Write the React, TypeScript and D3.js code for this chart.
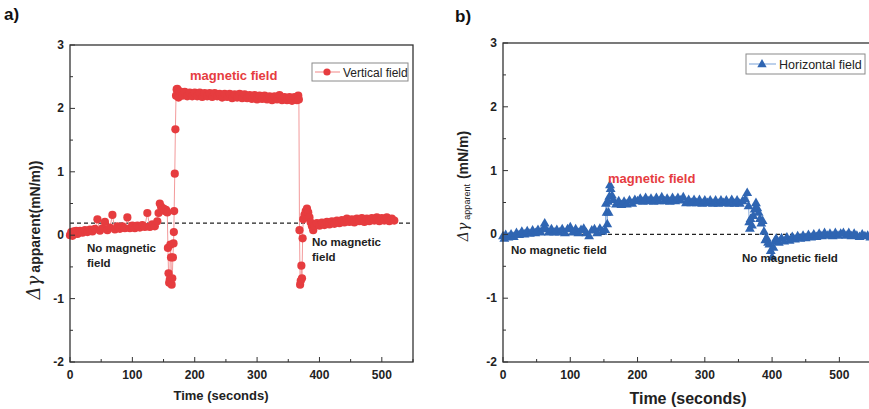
import React from "react";
import * as d3 from "d3";

// ---------- DATA ----------
const xTicks = [0, 100, 200, 300, 400, 500];
const yTicks = [-2, -1, 0, 1, 2, 3];

// Vertical field (panel a): [time s, Δγ mN/m]
const vertBefore: [number, number][] = [
  [0, 0.0], [2, 0.05], [4, -0.01], [6, 0.06], [8, 0.03], [10, 0.07], [12, 0.02], [16, 0.07], [20, 0.04],
  [24, 0.08], [28, 0.05], [32, 0.09], [36, 0.06], [40, 0.1], [44, 0.25], [48, 0.07], [52, 0.11],
  [56, 0.21], [60, 0.08], [64, 0.12], [68, 0.32], [72, 0.09], [76, 0.14], [80, 0.1], [84, 0.14],
  [88, 0.11], [92, 0.28], [96, 0.11], [100, 0.15], [104, 0.11], [108, 0.15], [112, 0.12], [116, 0.16],
  [120, 0.13], [124, 0.35], [128, 0.13], [132, 0.17], [136, 0.14], [140, 0.22],
];
const vertSwitchOn: [number, number][] = [
  [142, 0.35], [144, 0.5], [146, 0.45], [148, 0.4], [150, 0.42], [152, 0.38], [154, 0.4], [156, 0.36],
  [157, -0.2], [158, -0.6], [159, -0.75], [160, -0.7], [161, -0.15], [162, -0.35], [163, -0.78],
  [164, -0.68], [165, -0.35], [166, -0.13], [166.5, 0.05], [167, 0.38], [168, 0.97], [169, 1.67],
  [170, 2.2], [171, 2.3],
];
const vertOn: [number, number][] = [
  [172, 2.31], [174, 2.17], [176, 2.27], [180, 2.2], [184, 2.26], [188, 2.19], [192, 2.25], [196, 2.19],
  [200, 2.25], [204, 2.19], [208, 2.25], [212, 2.18], [216, 2.24], [220, 2.19], [224, 2.24], [228, 2.18],
  [232, 2.24], [236, 2.19], [240, 2.23], [244, 2.17], [248, 2.23], [252, 2.18], [256, 2.23], [260, 2.16],
  [264, 2.22], [268, 2.17], [272, 2.23], [276, 2.16], [280, 2.22], [284, 2.16], [288, 2.21], [292, 2.15],
  [296, 2.21], [300, 2.14], [304, 2.2], [308, 2.15], [312, 2.2], [316, 2.14], [320, 2.19], [324, 2.13],
  [328, 2.19], [332, 2.14], [336, 2.21], [340, 2.13], [344, 2.18], [348, 2.13], [352, 2.18], [356, 2.12],
  [360, 2.18], [364, 2.13], [366, 2.2], [367, 2.14],
];
const vertSwitchOff: [number, number][] = [
  [368, 0.08], [369, -0.78], [370, -0.72], [371, -0.48], [372, -0.68], [373, -0.05], [374, 0.25],
  [376, 0.32], [378, 0.38], [380, 0.42], [382, 0.36], [384, 0.28], [386, 0.2], [388, 0.14], [390, 0.08],
];
const vertAfter: [number, number][] = [
  [392, 0.15], [396, 0.19], [400, 0.15], [404, 0.2], [408, 0.16], [412, 0.21], [416, 0.17], [420, 0.22],
  [424, 0.18], [428, 0.23], [432, 0.19], [436, 0.24], [440, 0.2], [444, 0.26], [448, 0.21], [452, 0.25],
  [456, 0.2], [460, 0.26], [464, 0.22], [468, 0.27], [472, 0.21], [476, 0.26], [480, 0.22], [484, 0.27],
  [488, 0.23], [492, 0.28], [496, 0.22], [500, 0.27], [504, 0.23], [508, 0.28], [512, 0.22], [516, 0.26],
  [520, 0.23],
];

// Horizontal field (panel b)
const horBefore: [number, number][] = [
  [0, -0.02], [2, -0.06], [4, 0.0], [8, -0.04], [12, 0.01], [16, -0.03], [20, 0.03], [24, 0.0],
  [28, 0.05], [32, 0.01], [36, 0.06], [40, 0.02], [44, 0.07], [48, 0.03], [52, 0.08], [56, 0.04],
  [60, 0.1], [62, 0.18], [64, 0.09], [68, 0.04], [72, 0.09], [76, 0.04], [80, 0.08], [84, 0.04],
  [88, 0.09], [92, 0.03], [96, 0.09], [100, 0.12], [104, 0.04], [108, 0.09], [112, 0.03], [116, 0.08],
  [120, 0.1], [124, 0.03], [128, -0.02], [132, 0.07], [136, 0.09], [140, 0.03], [144, 0.1], [148, 0.05],
  [152, 0.08],
];
const horSwitchOn: [number, number][] = [
  [153, 0.49], [154, 0.35], [155, 0.17], [156, 0.52], [157, 0.35], [158, 0.6], [159, 0.78], [160, 0.72],
  [162, 0.62], [164, 0.55], [168, 0.48], [172, 0.53], [176, 0.47], [180, 0.52],
];
const horOn: [number, number][] = [
  [184, 0.48], [188, 0.54], [192, 0.49], [196, 0.55], [200, 0.53], [204, 0.57], [208, 0.52], [212, 0.58],
  [216, 0.53], [220, 0.57], [224, 0.52], [228, 0.58], [232, 0.53], [236, 0.59], [240, 0.53], [244, 0.57],
  [248, 0.52], [252, 0.58], [256, 0.53], [260, 0.58], [264, 0.54], [268, 0.59], [272, 0.5], [276, 0.55],
  [280, 0.5], [284, 0.55], [288, 0.5], [292, 0.55], [296, 0.49], [300, 0.54], [304, 0.5], [308, 0.54],
  [312, 0.49], [316, 0.54], [320, 0.49], [324, 0.54], [328, 0.5], [332, 0.54], [336, 0.49], [340, 0.55],
  [344, 0.49], [348, 0.54], [352, 0.49], [356, 0.53], [360, 0.56], [363, 0.66],
];
const horSwitchOff: [number, number][] = [
  [365, 0.45], [366, 0.2], [367, 0.1], [368, 0.25], [370, 0.15], [372, 0.3], [374, 0.4], [376, 0.5],
  [378, 0.42], [380, 0.35], [382, 0.25], [384, 0.18], [386, 0.22], [388, 0.05], [390, -0.08],
  [392, -0.05], [394, -0.12], [396, -0.15], [398, -0.25], [400, -0.35], [402, -0.2], [404, -0.1],
];
const horAfter: [number, number][] = [
  [406, -0.06], [410, -0.12], [414, -0.05], [418, -0.1], [422, -0.04], [426, -0.09], [430, -0.03],
  [434, -0.07], [438, -0.02], [442, -0.06], [446, -0.01], [450, -0.05], [454, 0.0], [458, -0.04],
  [462, 0.01], [466, -0.03], [470, 0.02], [474, -0.02], [478, 0.03], [482, -0.01], [486, 0.02], [490, -0.02],
  [494, 0.03], [498, -0.01], [502, 0.02], [506, 0.03], [510, -0.01], [514, 0.03], [518, -0.02], [522, 0.02],
  [526, -0.01], [530, -0.03], [534, 0.01], [538, -0.02], [542, -0.01], [546, -0.04],
];

const vertical = [...vertBefore, ...vertSwitchOn, ...vertOn, ...vertSwitchOff, ...vertAfter];
const horizontal = [...horBefore, ...horSwitchOn, ...horOn, ...horSwitchOff, ...horAfter];

const refA = 0.19;
const refB = 0.0;

// ---------- STYLE ----------
const RED = "#e63c3f";
const RED_LINE = "#f39a9b";
const BLUE = "#2f65b2";
const BLUE_LINE = "#8fb0de";
const AXIS = "#333";
const FONT = "Arial, 'Liberation Sans', Helvetica, sans-serif";

type PanelProps = {
  left: number; right: number; top: number; bottom: number;
  data: [number, number][];
  refY: number;
  marker: "circle" | "triangle";
  color: string; lineColor: string;
};

function Panel(p: PanelProps) {
  const x = d3.scaleLinear().domain([0, 550]).range([p.left, p.right]);
  const y = d3.scaleLinear().domain([-2, 3]).range([p.bottom, p.top]);
  const line = d3.line<[number, number]>().x(d => x(d[0])).y(d => y(d[1]));
  const minorX = d3.range(50, 551, 100);
  const minorY = d3.range(-1.5, 3, 1);
  const tri = d3.symbol().type(d3.symbolTriangle).size(42)();
  return (
    <g>
      <line x1={x(0)} x2={x(550)} y1={y(p.refY)} y2={y(p.refY)} stroke="#222" strokeWidth={1.1} strokeDasharray="4,3" />
      <path d={line(p.data) || ""} fill="none" stroke={p.lineColor} strokeWidth={1} />
      {p.data.map((d, i) =>
        p.marker === "circle" ? (
          <circle key={i} cx={x(d[0])} cy={y(d[1])} r={4.1} fill={p.color} />
        ) : (
          <path key={i} d={tri || ""} transform={`translate(${x(d[0])},${y(d[1]) + 0.8})`} fill={p.color} />
        )
      )}
      <rect x={p.left} y={p.top} width={p.right - p.left} height={p.bottom - p.top} fill="none" stroke={AXIS} strokeWidth={1.3} />
      {xTicks.map(t => (
        <g key={"xt" + t}>
          <line x1={x(t)} x2={x(t)} y1={p.bottom} y2={p.bottom - 5} stroke={AXIS} strokeWidth={1} />
          <text x={x(t)} y={p.bottom + 17} textAnchor="middle" fontSize={12} fontWeight="bold" fontFamily={FONT} fill="#222">{t}</text>
        </g>
      ))}
      {minorX.map(t => (
        <line key={"xm" + t} x1={x(t)} x2={x(t)} y1={p.bottom} y2={p.bottom - 3} stroke={AXIS} strokeWidth={1} />
      ))}
      {yTicks.map(t => (
        <g key={"yt" + t}>
          <line x1={p.left} x2={p.left + 5} y1={y(t)} y2={y(t)} stroke={AXIS} strokeWidth={1} />
          <text x={p.left - 6} y={y(t) + 4} textAnchor="end" fontSize={12} fontWeight="bold" fontFamily={FONT} fill="#222">{t}</text>
        </g>
      ))}
      {minorY.map(t => (
        <line key={"ym" + t} x1={p.left} x2={p.left + 3} y1={y(t)} y2={y(t)} stroke={AXIS} strokeWidth={1} />
      ))}
    </g>
  );
}

export default function App() {
  const tri = d3.symbol().type(d3.symbolTriangle).size(38)();
  return (
    <svg width={869} height={409} style={{ position: "absolute", left: 0, top: 0, background: "#fff" }} fontFamily={FONT}>
      <rect width={869} height={409} fill="#fff" />
      {/* Panel a */}
      <text x={4} y={20} fontSize={17} fontWeight="bold" fill="#111">a)</text>
      <Panel left={70} right={413} top={45} bottom={362} data={vertical} refY={refA} marker="circle" color={RED} lineColor={RED_LINE} />
      <text x={221} y={400} textAnchor="middle" fontSize={13} fontWeight="bold" fill="#222">Time (seconds)</text>
      <text transform="translate(40,230) rotate(-90)" textAnchor="middle" fill="#222">
        <tspan fontFamily="'DejaVu Serif', serif" fontSize={18} fontStyle="italic">Δγ</tspan>
        <tspan fontSize={14} fontWeight="bold" dx={3}>apparent(mN/m))</tspan>
      </text>
      <text x={190} y={80} fontSize={13} fontWeight="bold" fill={RED}>magnetic field</text>
      <text x={87} y={252} fontSize={11.5} fontWeight="bold" fill="#222">No magnetic</text>
      <text x={87} y={267} fontSize={11.5} fontWeight="bold" fill="#222">field</text>
      <text x={312} y={246} fontSize={11.5} fontWeight="bold" fill="#222">No magnetic</text>
      <text x={312} y={261} fontSize={11.5} fontWeight="bold" fill="#222">field</text>
      <rect x={312} y={63} width={96} height={18} fill="#fff" stroke="#8a8a8a" strokeWidth={1} />
      <line x1={315} x2={340} y1={72} y2={72} stroke={RED_LINE} strokeWidth={1.2} />
      <circle cx={327} cy={72} r={3.6} fill={RED} />
      <text x={343} y={77} fontSize={12} fill="#222">Vertical field</text>

      {/* Panel b */}
      <text x={455} y={22} fontSize={17} fontWeight="bold" fill="#111">b)</text>
      <Panel left={503} right={873} top={43} bottom={362} data={horizontal} refY={refB} marker="triangle" color={BLUE} lineColor={BLUE_LINE} />
      <text x={688} y={404} textAnchor="middle" fontSize={16} fontWeight="bold" fill="#222">Time (seconds)</text>
      <text transform="translate(468,186) rotate(-90)" textAnchor="middle" fill="#222">
        <tspan fontFamily="'DejaVu Serif', serif" fontSize={14} fontStyle="italic">Δγ</tspan>
        <tspan fontSize={9} dx={3} dy={2}>apparent</tspan>
        <tspan fontSize={14} fontWeight="bold" dx={5} dy={-2}>(mN/m)</tspan>
      </text>
      <text x={608} y={183} fontSize={13} fontWeight="bold" fill={RED}>magnetic field</text>
      <text x={511} y={254} fontSize={11.5} fontWeight="bold" fill="#222">No magnetic field</text>
      <text x={742} y={262} fontSize={11.5} fontWeight="bold" fill="#222">No magnetic field</text>
      <rect x={746} y={54} width={119} height={20} fill="#fff" stroke="#8a8a8a" strokeWidth={1} />
      <line x1={749} x2={776} y1={64} y2={64} stroke={BLUE_LINE} strokeWidth={1.2} />
      <path d={tri || ""} transform="translate(762,64.5)" fill={BLUE} />
      <text x={779} y={69} fontSize={12.5} fill="#222">Horizontal field</text>
    </svg>
  );
}
